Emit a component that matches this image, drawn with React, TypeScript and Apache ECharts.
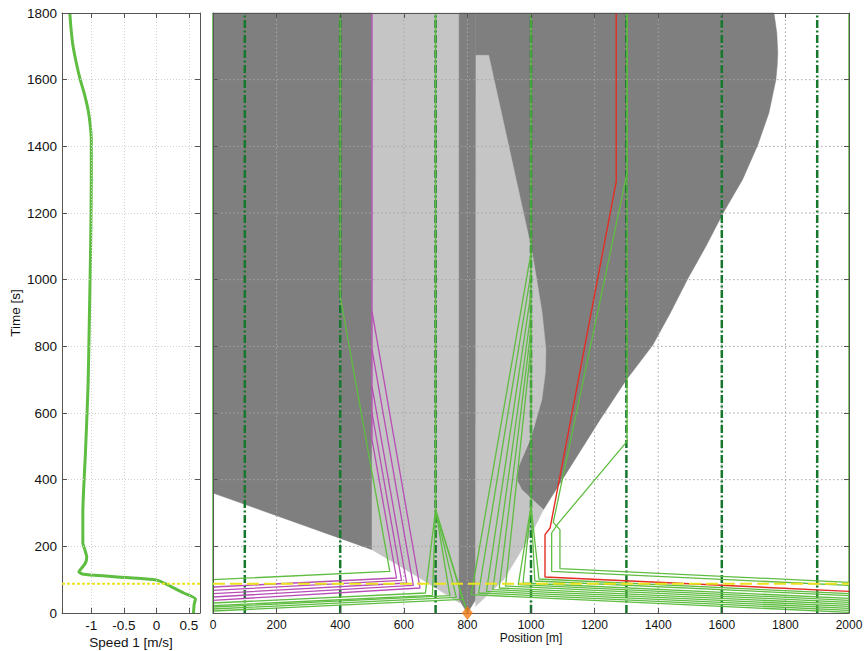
import React, { useEffect, useRef } from "react";
import * as echarts from "echarts";

// ---------- Speed panel (left) ----------
const speedMin = -1.45;
const speedMax = 0.67;
const speedTicks = [-1, -0.5, 0, 0.5];
const speedTime = [0, 25, 42, 60, 80, 98, 103, 108, 113, 118, 124, 132, 150, 168, 190, 210, 300, 480, 680, 880, 1100, 1300, 1420, 1470, 1510, 1560, 1600, 1650, 1700, 1750, 1800];
const speedValue = [0.57, 0.58, 0.6, 0.42, 0.22, 0.02, -0.2, -0.6, -0.95, -1.15, -1.19, -1.16, -1.09, -1.07, -1.1, -1.13, -1.13, -1.09, -1.05, -1.03, -1.01, -1.0, -1.0, -1.02, -1.05, -1.11, -1.17, -1.23, -1.28, -1.31, -1.33];

// ---------- Position panel (right) ----------
const posMin = 0;
const posMax = 2000;
const timeMin = 0;
const timeMax = 1800;
const posGrid = [200, 400, 600, 800, 1000, 1200, 1400, 1600, 1800];
const timeGrid = [200, 400, 600, 800, 1000, 1200, 1400, 1600];
const yellowTime = 88;
const exitLines = [100, 400, 700, 1000, 1300, 1600, 1900];
const wallLines = [0, 2000];
const sourcePoint = [[800, 0]];

// shaded regions [position, time]
const darkLeft = [[0, 360], [500, 190], [500, 1800], [0, 1800]];
const lightLeft = [[500, 1800], [776, 1800], [776, 30], [650, 105], [500, 190]];
const darkStrip = [[774, 1800], [826, 1800], [826, 40], [800, 0], [774, 40]];
const darkRight = [[826, 1800], [1764, 1800], [1773, 1740], [1776, 1680], [1774, 1640], [1770, 1600], [1748, 1500], [1713, 1404], [1665, 1300], [1606, 1203], [1550, 1100], [1493, 1003], [1438, 900], [1383, 804], [1340, 750], [1300, 700], [1217, 580], [1039, 310], [971, 370], [955, 400], [961, 440], [997, 520], [1013, 570], [826, 570]];
const lightSliver = [[827, 1673], [867, 1673], [1002, 1090], [1018, 1000], [1035, 900], [1047, 790], [1045, 720], [1034, 640], [1013, 570], [997, 520], [961, 440], [955, 400], [971, 370], [1039, 310], [997, 230], [914, 100], [826, 20]];

// trajectories [position, time]
const greenPaths = [
  [[0, 100], [556, 125], [400, 950], [400, 1800]],
  [[0, 30], [668, 60], [700, 310], [700, 1800]],
  [[0, 22], [690, 53], [700, 310]],
  [[0, 18], [745, 52], [700, 310]],
  [[0, 12], [765, 47], [700, 310]],
  [[0, 6], [785, 41], [700, 310]],
  [[800, 0], [700, 310]],
  [[2000, 92], [1091, 133], [1091, 250], [1070, 272], [1302, 1320], [1302, 1800]],
  [[2000, 83], [1065, 125], [1065, 240], [1085, 268], [1302, 515], [1302, 1800]],
  [[2000, 58], [1025, 102], [1000, 320], [1000, 1800]],
  [[2000, 52], [1012, 96], [1000, 320]],
  [[2000, 44], [975, 90], [1000, 320]],
  [[2000, 38], [960, 85], [1000, 320]],
  [[2000, 32], [920, 81], [1000, 800]],
  [[2000, 26], [900, 75], [1000, 850]],
  [[2000, 20], [880, 70], [1000, 900]],
  [[2000, 14], [860, 65], [1000, 960]],
  [[2000, 8], [835, 60], [1000, 1020]],
  [[2000, 2], [812, 55], [1000, 1080]],
];
const magentaPaths = [
  [[0, 78], [577, 105], [500, 520], [500, 1800]],
  [[0, 68], [593, 98], [500, 600]],
  [[0, 58], [609, 90], [500, 680]],
  [[0, 48], [630, 83], [500, 790]],
  [[0, 38], [651, 75], [500, 905]],
];
const redPath = [[2000, 65], [1044, 108], [1044, 235], [1060, 255], [1268, 1295], [1268, 1800]];

const FONT = "'Liberation Sans', Arial, sans-serif";
const GREEN = "#5fbd41";
const DARK_GREEN = "#16782c";
const FRAME = "#555555";
const GRID_DOT = "#a6a6a6";

function polygonSeries(poly: number[][], color: string) {
  return {
    type: "custom",
    xAxisIndex: 2,
    yAxisIndex: 2,
    z: 1,
    silent: true,
    data: [[poly[0][0], poly[0][1]]],
    renderItem: (_params: any, api: any) => ({
      type: "polygon",
      shape: { points: poly.map((p) => api.coord(p)) },
      style: { fill: color, stroke: color, lineWidth: 0.5 },
    }),
  };
}

function pathSeries(path: number[][], color: string, width: number, z: number, type: any = "solid", xi = 2) {
  return {
    type: "line",
    xAxisIndex: xi,
    yAxisIndex: xi,
    data: path,
    symbol: "none",
    showSymbol: false,
    silent: true,
    z,
    lineStyle: { color, width, type },
  };
}

function sideAxis(gridIndex: number, position: string, min: number, max: number, interval?: number, custom?: number[]) {
  const ax: any = {
    type: "value",
    gridIndex,
    position,
    min,
    max,
    z: 6,
    axisLine: { show: true, onZero: false, lineStyle: { color: FRAME, width: 1 } },
    axisTick: { show: true, inside: true, length: 5, lineStyle: { color: FRAME } },
    axisLabel: { show: false },
    splitLine: { show: false },
  };
  if (interval) ax.interval = interval;
  if (custom) {
    ax.axisTick.customValues = custom;
    ax.axisLabel.customValues = custom;
  }
  return ax;
}

const plain = (v: number) => String(v);

export default function App() {
  const ref = useRef<HTMLDivElement>(null);
  useEffect(() => {
    if (!ref.current) return;
    const chart = echarts.init(ref.current, undefined, { renderer: "svg" });

    const speedData = speedTime.map((t, i) => [speedValue[i], t]);

    const series: any[] = [
      {
        type: "line",
        xAxisIndex: 0,
        yAxisIndex: 0,
        data: speedData,
        symbol: "none",
        smooth: 0.2,
        silent: true,
        z: 4,
        lineStyle: { color: GREEN, width: 3 },
      },
      pathSeries([[speedMin, yellowTime], [speedMax, yellowTime]], "#ece21e", 2, 6, [3, 2], 0),
      polygonSeries(darkLeft, "#7f7f7f"),
      polygonSeries(lightLeft, "#c4c5c4"),
      polygonSeries(darkStrip, "#7f7f7f"),
      polygonSeries(darkRight, "#7f7f7f"),
      polygonSeries(lightSliver, "#c4c5c4"),
    ];
    // dotted grid drawn above the shaded regions
    posGrid.forEach((x) => series.push(pathSeries([[x, timeMin], [x, timeMax]], GRID_DOT, 1, 2, [1.5, 2.5])));
    timeGrid.forEach((t) => series.push(pathSeries([[posMin, t], [posMax, t]], GRID_DOT, 1, 2, [1.5, 2.5])));
    exitLines.forEach((x) => series.push(pathSeries([[x, timeMin], [x, timeMax]], DARK_GREEN, 2.5, 3, [8, 2.5, 2, 2.5])));
    wallLines.forEach((x) => series.push(pathSeries([[x, timeMin], [x, timeMax]], GREEN, 1.5, 4)));
    greenPaths.forEach((p) => series.push(pathSeries(p, GREEN, 1.3, 4)));
    magentaPaths.forEach((p) => series.push(pathSeries(p, "#b84db5", 1.3, 4)));
    series.push(pathSeries(redPath, "#e42d24", 1.4, 5));
    series.push(pathSeries([[posMin, yellowTime], [posMax, yellowTime]], "#ece21e", 2, 6, [12, 5]));
    series.push({
      type: "scatter",
      xAxisIndex: 2,
      yAxisIndex: 2,
      data: sourcePoint,
      symbol: "diamond",
      symbolSize: [11, 14],
      clip: false,
      silent: true,
      z: 10,
      itemStyle: { color: "#f07b16" },
    });

    const labelStyle = { color: "#111", fontFamily: FONT, formatter: plain };

    chart.setOption({
      animation: false,
      backgroundColor: "#ffffff",
      grid: [
        { left: 62, top: 13, width: 138, height: 600, containLabel: false },
        { left: 213, top: 13, width: 636, height: 600, containLabel: false },
      ],
      xAxis: [
        {
          type: "value",
          gridIndex: 0,
          position: "bottom",
          min: speedMin,
          max: speedMax,
          z: 6,
          axisLine: { show: true, onZero: false, lineStyle: { color: FRAME } },
          axisTick: { show: true, inside: true, length: 5, customValues: speedTicks, lineStyle: { color: FRAME } },
          axisLabel: { ...labelStyle, fontSize: 13.5, margin: 5, customValues: speedTicks },
          splitLine: { show: true, lineStyle: { color: "#d2d2d2", type: [1, 2], width: 1 } },
        },
        sideAxis(0, "top", speedMin, speedMax, undefined, speedTicks),
        {
          type: "value",
          gridIndex: 1,
          position: "bottom",
          min: posMin,
          max: posMax,
          interval: 200,
          z: 6,
          axisLine: { show: true, onZero: false, lineStyle: { color: FRAME } },
          axisTick: { show: true, inside: true, length: 5, lineStyle: { color: FRAME } },
          axisLabel: { ...labelStyle, fontSize: 12, margin: 6 },
          splitLine: { show: false },
        },
        sideAxis(1, "top", posMin, posMax, 200),
      ],
      yAxis: [
        {
          type: "value",
          gridIndex: 0,
          position: "left",
          min: timeMin,
          max: timeMax,
          interval: 200,
          z: 6,
          axisLine: { show: true, onZero: false, lineStyle: { color: FRAME } },
          axisTick: { show: true, inside: true, length: 5, lineStyle: { color: FRAME } },
          axisLabel: { ...labelStyle, fontSize: 13.5, margin: 5 },
          splitLine: { show: true, lineStyle: { color: "#d2d2d2", type: [1, 2], width: 1 } },
        },
        sideAxis(0, "right", timeMin, timeMax, 200),
        {
          type: "value",
          gridIndex: 1,
          position: "left",
          min: timeMin,
          max: timeMax,
          interval: 200,
          z: 6,
          axisLine: { show: true, onZero: false, lineStyle: { color: FRAME } },
          axisTick: { show: true, inside: true, length: 5, lineStyle: { color: FRAME } },
          axisLabel: { show: false },
          splitLine: { show: false },
        },
        sideAxis(1, "right", timeMin, timeMax, 200),
      ],
      graphic: [
        {
          type: "text",
          x: 15,
          y: 313,
          rotation: Math.PI / 2,
          style: { text: "Time [s]", fontSize: 13.5, fontFamily: FONT, fill: "#111", align: "center", verticalAlign: "middle" },
        },
        {
          type: "text",
          x: 131,
          y: 642,
          style: { text: "Speed 1 [m/s]", fontSize: 13.5, fontFamily: FONT, fill: "#111", align: "center", verticalAlign: "middle" },
        },
        {
          type: "text",
          x: 531,
          y: 638,
          style: { text: "Position [m]", fontSize: 12, fontFamily: FONT, fill: "#111", align: "center", verticalAlign: "middle" },
        },
      ],
      series,
    });
    return () => chart.dispose();
  }, []);
  return <div ref={ref} style={{ position: "fixed", left: 0, top: 0, width: 866, height: 651 }} />;
}
